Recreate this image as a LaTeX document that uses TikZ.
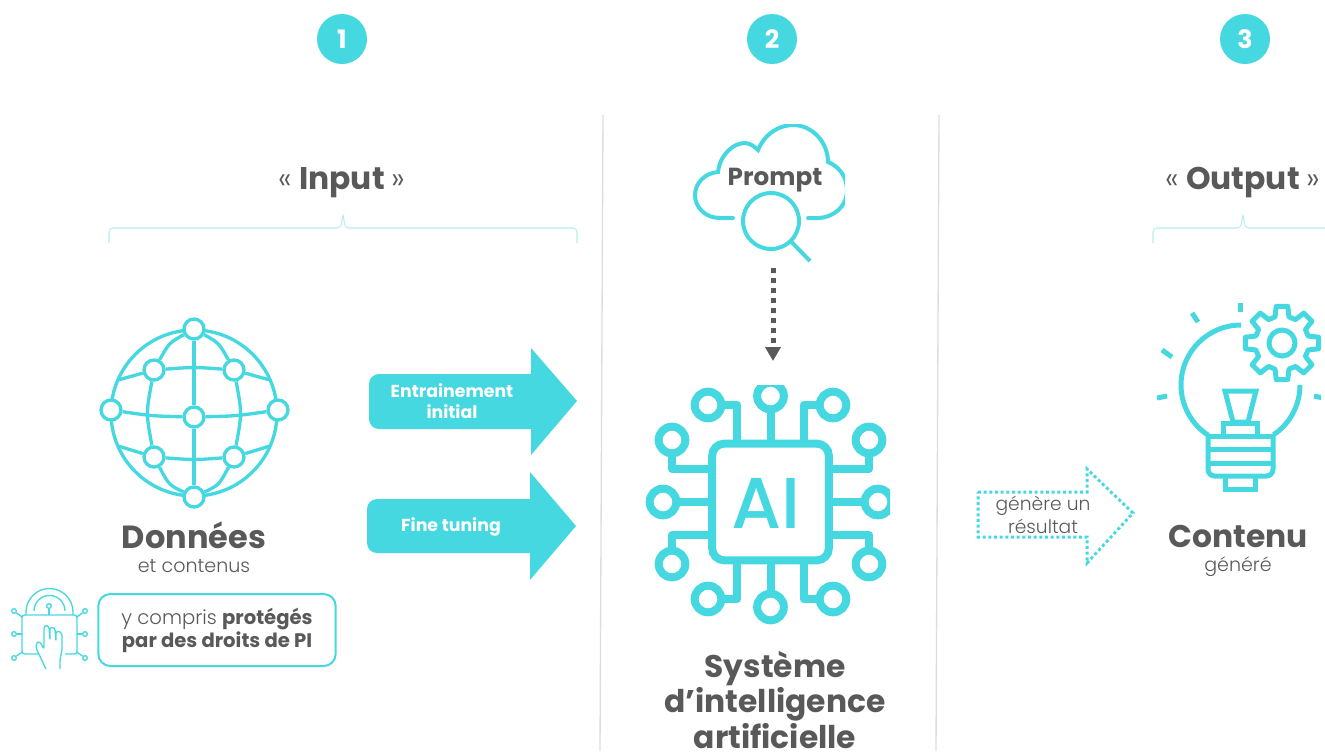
\documentclass[tikz,border=0pt]{standalone}
\usepackage{fontspec}
\setmainfont{Poppins}
\newfontfamily\lightfont{Poppins Light}
\newfontfamily\chipfont{Poppins Medium}
\usepackage{xcolor}
\usetikzlibrary{arrows.meta}
\definecolor{cyan}{HTML}{45D8E0}
\definecolor{pale}{HTML}{B5EEF2}
\definecolor{ink}{HTML}{595959}
\definecolor{rule}{HTML}{DDDDDD}
\tikzset{
  numdot/.style={circle,fill=cyan,text=white,inner sep=0pt,minimum size=37.5pt,font=\fontsize{19}{22}\selectfont\bfseries},
  title/.style={text=ink,inner sep=0pt,align=center,font=\fontsize{23.5}{26.5}\selectfont\bfseries},
  sub/.style={text=ink,inner sep=0pt,align=center,font=\fontsize{14.3}{18}\lightfont},
  bracket/.style={pale,line width=0.8pt,rounded corners=3pt},
  bigarrow/.style={fill=cyan},
  arrowtext/.style={text=white,inner sep=0pt,align=center,font=\fontsize{13}{15.75}\selectfont\bfseries},
  globedot/.style={circle,draw=cyan,fill=white,line width=2.5pt,inner sep=0pt,minimum size=15pt},
  globeline/.style={draw=cyan,line width=2.5pt},
  chipdot/.style={circle,draw=cyan,line width=6pt,inner sep=0pt,minimum size=20pt},
  chipline/.style={draw=cyan,line width=6pt,line join=round},
  thinicon/.style={draw=cyan,line width=1pt},
  thindot/.style={circle,draw=cyan,line width=1pt,inner sep=0pt,minimum size=3.5pt},
  bulbline/.style={draw=cyan,line width=3.75pt}
}
\begin{document}
\begin{tikzpicture}[x=0.75pt,y=-0.75pt]
  \useasboundingbox (0,0) rectangle (1325,751);
  % step numbers
  \node[numdot] (one) at (342,39) {1};
  \node[numdot] (two) at (772,39) {2};
  \node[numdot] (three) at (1245,39) {3};
  % dividers
  \draw[rule,line width=1pt] (603,115) -- (600,751);
  \draw[rule,line width=1pt] (939,115) -- (936,751);
  % input and output headings
  \node[title] (input) at (342,183) {{\mdseries\lightfont«}\ Input\ {\mdseries\lightfont»}};
  \node[title] (output) at (1243,183) {{\mdseries\lightfont«}\ Output\ {\mdseries\lightfont»}};
  \draw[bracket] (109,243) -- (109,228) -- (341,228) -- (343,213) -- (345,228) -- (577,228) -- (577,243);
  \draw[bracket] (1153,243) -- (1153,228) -- (1241,228) -- (1243,213) -- (1245,228) -- (1340,228);
  % globe
  \draw[globeline] (194,413) circle (83);
  \node[globedot] (gtop) at (194,329) {};
  \node[globedot] (gbot) at (194,497) {};
  \node[globedot] (gleft) at (111,410) {};
  \node[globedot] (gright) at (278,410) {};
  \node[globedot] (gmid) at (194,417) {};
  \node[globedot] (gul) at (154,370) {};
  \node[globedot] (gur) at (234,370) {};
  \node[globedot] (gll) at (154,457) {};
  \node[globedot] (glr) at (234,457) {};
  \coordinate (rimul) at (118,380);
  \coordinate (rimur) at (270,380);
  \coordinate (rimll) at (118,446);
  \coordinate (rimlr) at (270,446);
  \draw[globeline] (gtop) -- (gmid) -- (gbot);
  \draw[globeline] (gtop) .. controls (169,343) .. (gul);
  \draw[globeline] (gtop) .. controls (219,343) .. (gur);
  \draw[globeline] (gbot) .. controls (169,485) .. (gll);
  \draw[globeline] (gbot) .. controls (219,485) .. (glr);
  \draw[globeline] (gul) .. controls (146,413) .. (gll);
  \draw[globeline] (gur) .. controls (242,413) .. (glr);
  \draw[globeline] (gul) .. controls (194,367) .. (gur);
  \draw[globeline] (gll) .. controls (194,460) .. (glr);
  \draw[globeline] (gleft) .. controls (152,416) .. (gmid);
  \draw[globeline] (gright) .. controls (236,416) .. (gmid);
  \draw[globeline] (gul) -- (rimul);
  \draw[globeline] (gur) -- (rimur);
  \draw[globeline] (gll) -- (rimll);
  \draw[globeline] (glr) -- (rimlr);
  \node[title,font=\fontsize{24}{27}\selectfont\bfseries] (donnees) at (194,535) {Données};
  \node[sub] (contenus) at (194,566) {et contenus};
  % padlock
  \draw[thinicon,rounded corners=2pt] (40,654) -- (22,654) -- (22,615) -- (77,615) -- (77,654) -- (65,654);
  \draw[thinicon] (26,615) -- (26,612) arc (180:360:23.5) -- (73,615);
  \draw[thinicon] (34,611) arc (180:360:15.5);
  \node[thindot] (lockpin) at (49,606) {};
  \coordinate (locktop) at (49,615);
  \draw[thinicon] (lockpin) -- (locktop);
  \node[thindot] (pa) at (14,611) {};
  \node[thindot] (pb) at (14,634) {};
  \node[thindot] (pc) at (14,658) {};
  \node[thindot] (pd) at (85,611) {};
  \node[thindot] (pe) at (85,634) {};
  \node[thindot] (pf) at (85,658) {};
  \coordinate (qa) at (22,617);
  \coordinate (qb) at (22,634);
  \coordinate (qc) at (22,652);
  \coordinate (qd) at (77,617);
  \coordinate (qe) at (77,634);
  \coordinate (qf) at (77,652);
  \draw[thinicon] (pa) -- (qa);
  \draw[thinicon] (pb) -- (qb);
  \draw[thinicon] (pc) -- (qc);
  \draw[thinicon] (pd) -- (qd);
  \draw[thinicon] (pe) -- (qe);
  \draw[thinicon] (pf) -- (qf);
  \draw[thinicon,fill=white,rounded corners=1pt] (46,669) -- (36,648) -- (37,642) -- (40,642) -- (44,649) -- (44,627) -- (46,625) -- (49,627) -- (50,640) -- (50,628) -- (53,627) -- (55,629) -- (56,641) -- (56,632) -- (59,631) -- (62,634) -- (62,650) -- (60,660) -- (60,669);
  \node[draw=cyan,line width=1.5pt,rounded corners=9pt,minimum width=178pt,minimum height=54pt,text=ink,align=center,inner sep=0pt,font=\fontsize{14.7}{17.25}\selectfont] (droits) at (217,630) {{\lightfont y compris} \textbf{protégés}\\\textbf{par des droits de PI}};
  % big arrows
  \fill[bigarrow] (531,374) -- (531,348) -- (577,401) -- (531,455) -- (531,429) -- (379,429) arc (90:180:10) -- (369,384) arc (180:270:10) -- cycle;
  \fill[bigarrow] (530,499) -- (530,472) -- (576,526) -- (530,580) -- (530,553) -- (377,553) arc (90:180:10) -- (367,509) arc (180:270:10) -- cycle;
  \node[arrowtext] (initial) at (452,401) {Entrainement\\initial};
  \node[arrowtext] (fine) at (451,527) {Fine tuning};
  % cloud and magnifier
  \begin{scope}
    \clip (690,124) rectangle (845,265);
    \draw[draw=cyan,line width=3pt,line cap=round] (733,218) -- (720,218) .. controls (705,218) and (695,207) .. (695,195) .. controls (695,183) and (705,173) .. (718,172) .. controls (720,155) and (733,143) .. (745,143) .. controls (750,143) and (755,147) .. (758,150) .. controls (765,133) and (780,125) .. (793,125) .. controls (812,125) and (828,142) .. (828,162) .. controls (838,166) and (847,176) .. (847,190) .. controls (847,207) and (833,218) .. (817,218) -- (808,218);
    \node[circle,draw=cyan,line width=3pt,inner sep=0pt,minimum size=42pt] (lens) at (771,221) {};
    \coordinate (handle) at (810,261);
    \draw[draw=cyan,line width=3pt] (lens) -- (handle);
  \end{scope}
  \node[text=ink,inner sep=0pt,font=\fontsize{18.5}{20}\selectfont\bfseries] (prompt) at (775,180) {Prompt};
  % dotted arrow to the chip
  \coordinate (promptout) at (773,268);
  \coordinate (chipin) at (773,361);
  \draw[ink,line width=3.75pt,dash pattern=on 3.75pt off 3.75pt,-{Triangle[length=10.5pt,width=11.25pt]}] (promptout) -- (chipin);
  % chip
  \begin{scope}
    \clip (640,385) rectangle (890,630);
    \node[draw=cyan,line width=6pt,rounded corners=9pt,minimum size=87.5pt,inner sep=0pt] (chip) at (770.5,502) {};
    \node[inner sep=0pt,text=cyan,font=\fontsize{54}{60}\chipfont] (ailabel) at (766,503) {AI};
    \node[chipdot] (ca) at (770.5,396) {};
    \node[chipdot] (cb) at (708,405) {};
    \node[chipdot] (cc) at (833,405) {};
    \node[chipdot] (cd) at (672,440) {};
    \node[chipdot] (ce) at (869,440) {};
    \node[chipdot] (cf) at (663,502) {};
    \node[chipdot] (cg) at (878,502) {};
    \node[chipdot] (ch) at (672,564) {};
    \node[chipdot] (ci) at (869,564) {};
    \node[chipdot] (cj) at (708,599) {};
    \node[chipdot] (ck) at (833,599) {};
    \node[chipdot] (cl) at (770.5,607) {};
    \draw[chipline] (ca) -- (chip);
    \draw[chipline] (cl) -- (chip);
    \draw[chipline] (cf) -- (chip);
    \draw[chipline] (cg) -- (chip);
    \draw[chipline] (cb) -| (chip.118);
    \draw[chipline] (cc) -| (chip.62);
    \draw[chipline] (cd) |- (chip.152);
    \draw[chipline] (ce) |- (chip.28);
    \draw[chipline] (ch) |- (chip.208);
    \draw[chipline] (ci) |- (chip.332);
    \draw[chipline] (cj) -| (chip.242);
    \draw[chipline] (ck) -| (chip.298);
  \end{scope}
  \node[title] (systeme) at (775,700) {Système\\d’intelligence\\artificielle};
  % dotted arrow to the result
  \draw[cyan,line width=2.25pt,dash pattern=on 2.25pt off 2pt] (978,492) -- (1087,492) -- (1087,469) -- (1133,513) -- (1087,563) -- (1087,537) -- (978,537) -- cycle;
  \node[sub,font=\fontsize{14}{17.5}\lightfont] (resultat) at (1043,515) {génère un\\résultat};
  % bulb and gear
  \begin{scope}
    \clip (1150,300) rectangle (1321,500);
    \draw[bulbline] (1241,325) arc (270:123:60);
    \draw[bulbline] (1300,385) arc (0:56:60);
    \draw[bulbline] (1208,436) -- (1273,436);
    \draw[bulbline,rounded corners=5pt] (1208,434) -- (1208,476) -- (1273,476) -- (1273,434);
    \draw[bulbline] (1208,449.5) -- (1273,449.5);
    \draw[bulbline] (1208,463) -- (1273,463);
    \draw[bulbline] (1225,478) -- (1225,489) -- (1255,489) -- (1255,478);
    \draw[bulbline] (1225,391) -- (1256,391) -- (1248,422) -- (1233,422) -- cycle;
    \draw[bulbline] (1223,436) -- (1223,423) -- (1257,423) -- (1257,436);
    \draw[bulbline] (1240,303) -- (1240,312);
    \draw[bulbline] (1192,313) -- (1198,322);
    \draw[bulbline] (1162,350) -- (1172,357);
    \draw[bulbline] (1157,398) -- (1167,396);
    \draw[bulbline] (1314,396) -- (1323,398);
    \begin{scope}[shift={(1282,343)}]
      \draw[bulbline,line join=round] (-15:27)
      \foreach \a in {0,45,...,315} { -- (\a-15:27) -- (\a-9:37) -- (\a+9:37) -- (\a+15:27) } -- cycle;
      \draw[bulbline] (0,0) circle (13);
    \end{scope}
  \end{scope}
  \node[title] (contenu) at (1238,536) {Contenu};
  \node[sub] (genere) at (1238,567) {généré};
\end{tikzpicture}
\end{document}
